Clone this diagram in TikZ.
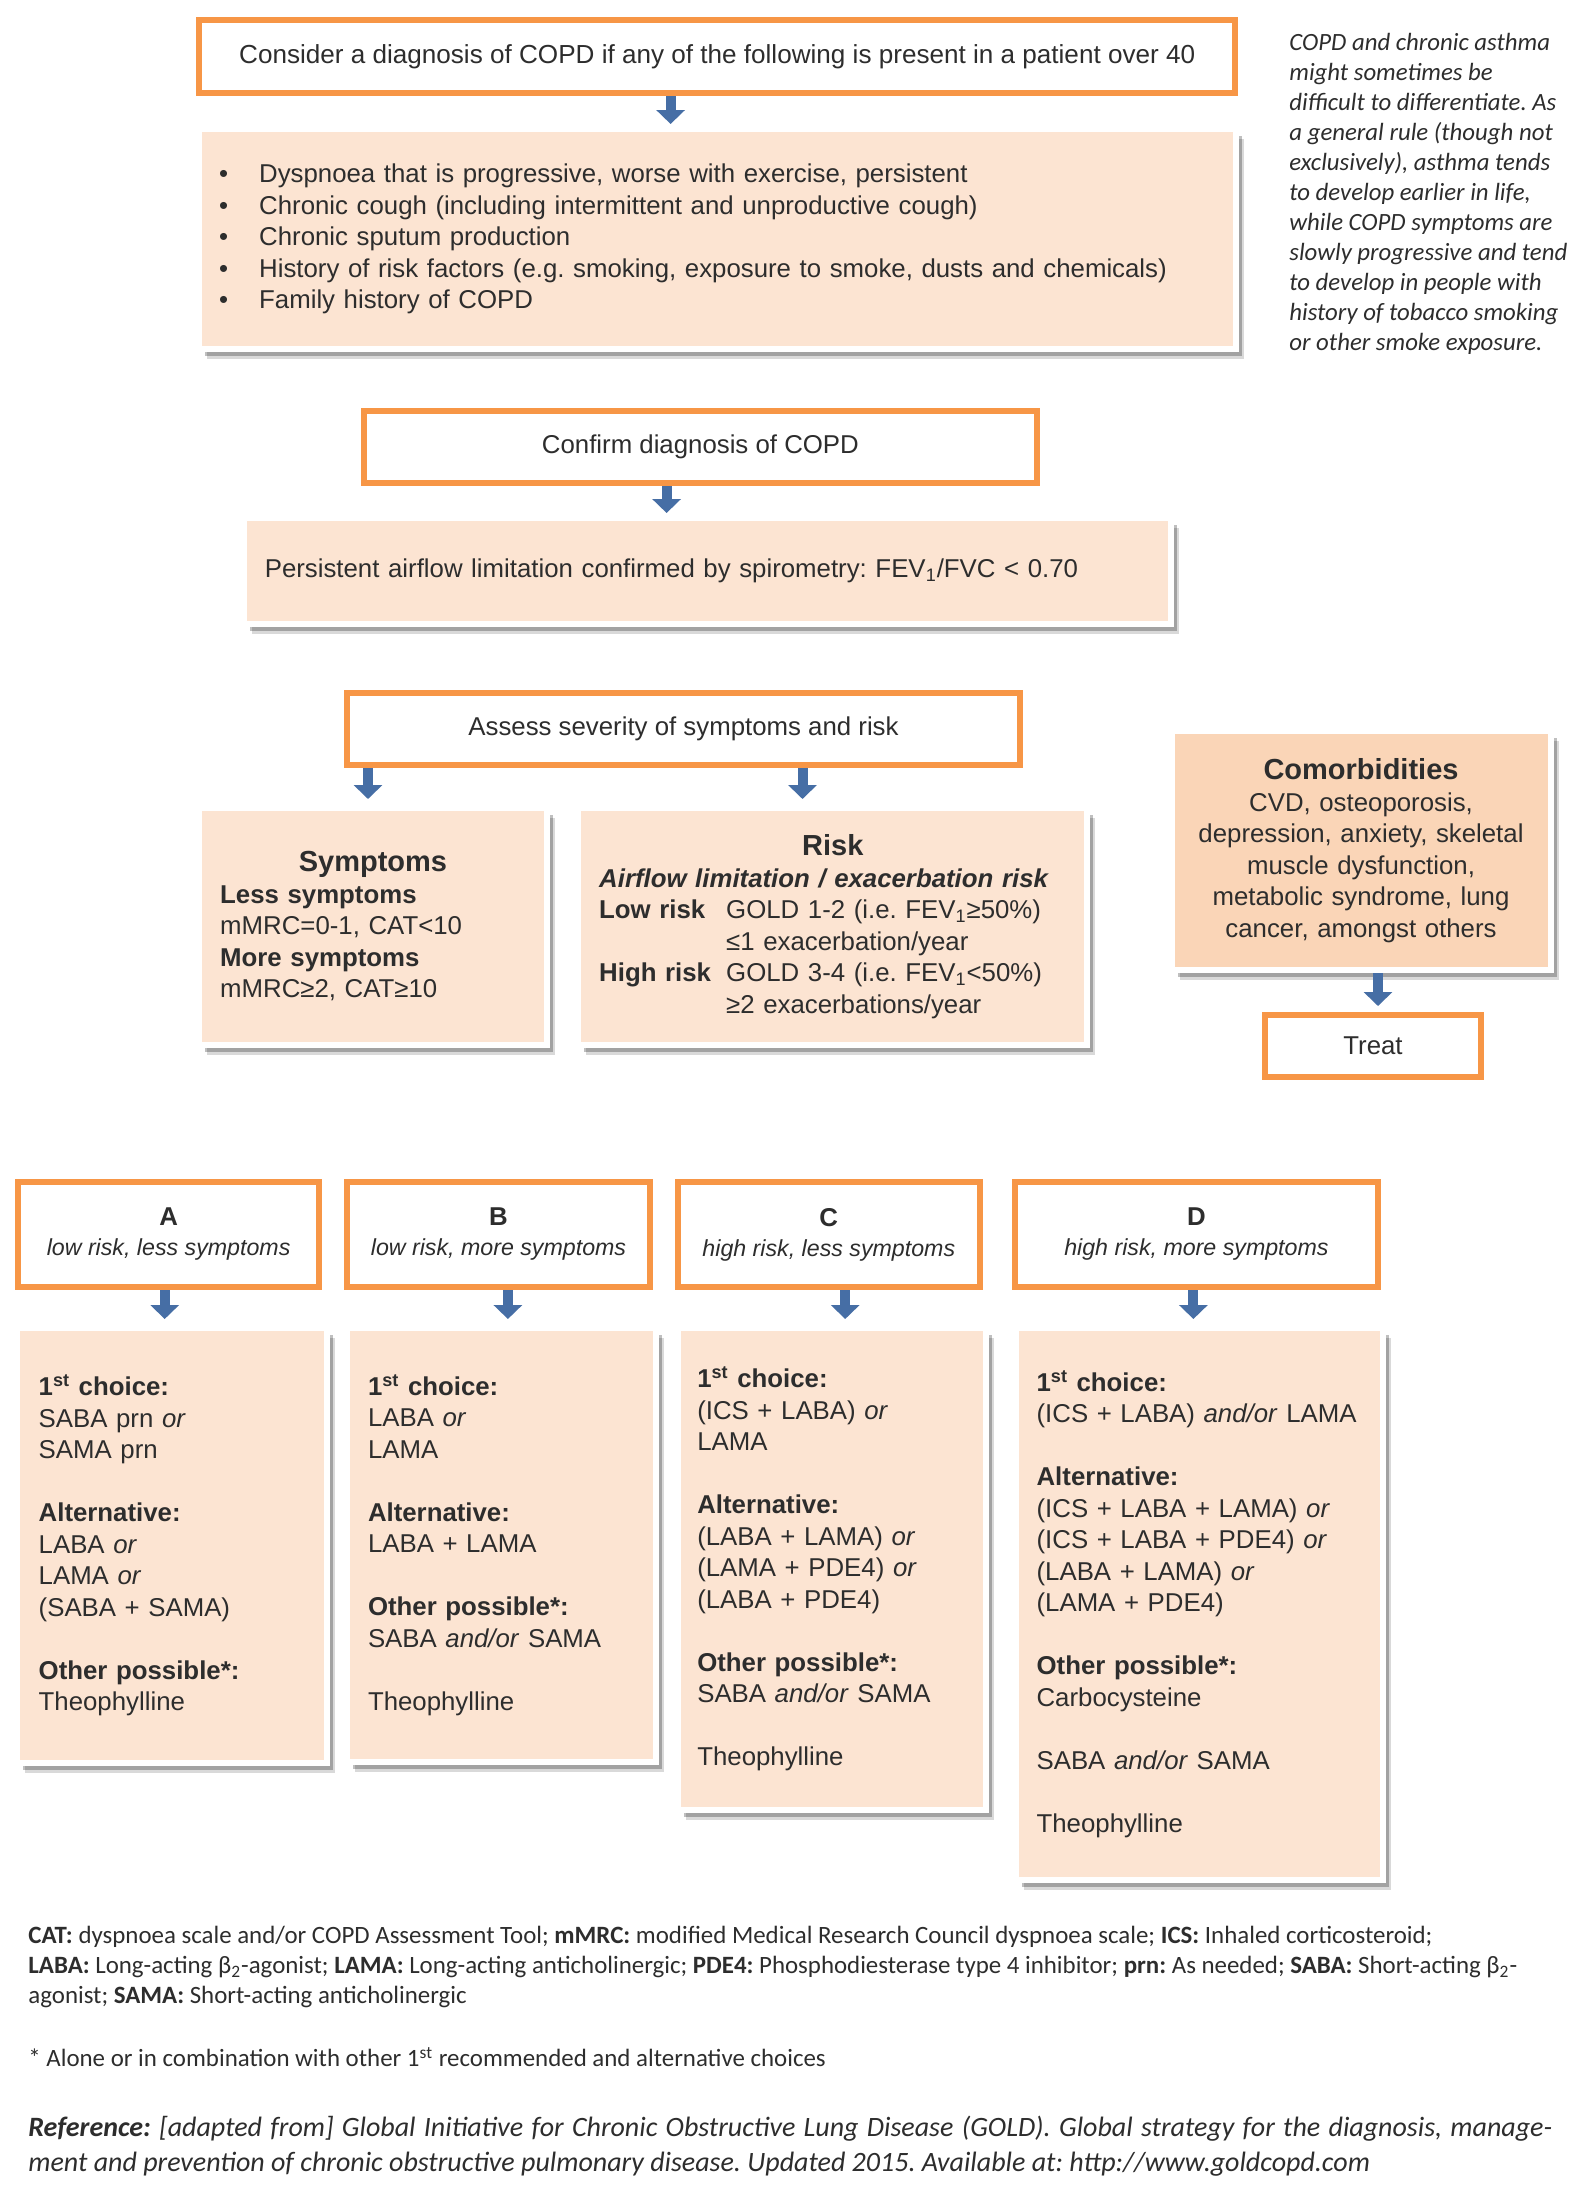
\documentclass[tikz,border=0pt]{standalone}
\usepackage{fontspec}
\setmainfont{Liberation Sans}
\newfontfamily\calibri{Carlito}
\usepackage{tikz}
\usetikzlibrary{positioning, arrows.meta, shadows}

\definecolor{copdorange}{RGB}{247,150,70}
\definecolor{copdpeach}{RGB}{252,228,210}
\definecolor{copdtan}{RGB}{250,213,183}
\definecolor{copdblue}{RGB}{70,110,165}
\definecolor{copdtext}{RGB}{45,45,45}

\newcommand{\boxfont}{\fontsize{12.9pt}{15.75pt}\selectfont}
\newcommand{\groupfont}{\fontsize{11.6pt}{15pt}\selectfont}
\newcommand{\headfont}{\fontsize{14.5pt}{15.75pt}\selectfont\bfseries}
\newcommand{\sidefont}{\calibri\fontsize{12.4pt}{15pt}\selectfont\itshape}
\newcommand{\footfont}{\calibri\fontsize{12.45pt}{15pt}\selectfont}
\newcommand{\reffont}{\calibri\fontsize{14pt}{17.5pt}\selectfont\itshape}
\newcommand{\bul}{\makebox[20pt][l]{\textbullet}}
\newcommand{\skipline}{\\[15.75pt]}
\frenchspacing

\tikzset{
  stepbox/.style={draw=copdorange, line width=3pt, fill=white, text=copdtext, font=\boxfont, align=center, inner sep=0pt},
  groupbox/.style={stepbox, font=\groupfont, minimum height=52.5pt},
  infobox/.style={fill=copdpeach, draw=white, line width=3pt, text=copdtext, font=\boxfont, align=left, inner ysep=0pt,
    drop shadow={shadow xshift=4pt, shadow yshift=-5pt, fill=black, opacity=.15},
    drop shadow={shadow xshift=3pt, shadow yshift=-3.5pt, fill=black, opacity=.25}},
  blockarrow/.style={draw=copdblue, line width=5pt, -{Triangle[width=14pt,length=7pt]}, shorten >=3pt},
  plaintext/.style={anchor=west, inner sep=0pt, text=copdtext, align=left},
}

\begin{document}
\begin{tikzpicture}[x=0.5pt, y=-0.5pt]
    \useasboundingbox[fill=white] (0,0) rectangle (1589,2185);

    % diagnosis
    \node [stepbox, font=\fontsize{13.05pt}{15.75pt}\selectfont, minimum width=517.8pt, minimum height=36.5pt] (consider) at (717.2,56.5) {Consider a diagnosis of COPD if any of the following is present in a patient over 40};
    \node [infobox, text width=498.5pt, inner xsep=9.9pt, minimum height=110pt] (signs) at (717.7,239) {\bul Dyspnoea that is progressive, worse with exercise, persistent\\
        \bul Chronic cough (including intermittent and unproductive cough)\\
        \bul Chronic sputum production\\
        \bul History of risk factors (e.g. smoking, exposure to smoke, dusts and chemicals)\\
        \bul Family history of COPD};
    \node [plaintext, font=\sidefont] (asthma) at (1289,194) {COPD and chronic asthma\\might sometimes be\\difficult to differentiate. As\\a general rule (though not\\exclusively), asthma tends\\to develop earlier in life,\\while COPD symptoms are\\slowly progressive and tend\\to develop in people with\\history of tobacco smoking\\or other smoke exposure.};

    \node [stepbox, minimum width=336.3pt, minimum height=36pt] (confirm) at (700.4,447) {Confirm diagnosis of COPD};
    \node [infobox, text width=442.5pt, inner xsep=10.4pt, minimum height=53pt] (spiro) at (707.3,571) {Persistent airflow limitation confirmed by spirometry: FEV\textsubscript{1}/FVC < 0.70};

    % severity
    \node [stepbox, minimum width=336.3pt, minimum height=36pt] (assess) at (683.5,729) {Assess severity of symptoms and risk};
    \node [infobox, text width=152.8pt, inner xsep=10.4pt, minimum height=118.5pt] (symptoms) at (373,926.5) {\makebox[152.8pt]{\headfont Symptoms}\\
        \textbf{Less symptoms}\\
        mMRC=0-1, CAT<10\\
        \textbf{More symptoms}\\
        mMRC≥2, CAT≥10};
    \node [infobox, text width=233.6pt, inner xsep=10.4pt, minimum height=118.5pt] (risk) at (832.8,926.5) {\makebox[233.6pt]{\headfont Risk}\\
        \textbf{\textit{Airflow limitation / exacerbation risk}}\\
        \makebox[63.5pt][l]{\bfseries Low risk}GOLD 1-2 (i.e. FEV\textsubscript{1}≥50\%)\\
        \hspace*{63.5pt}≤1 exacerbation/year\\
        \makebox[63.5pt][l]{\bfseries High risk}GOLD 3-4 (i.e. FEV\textsubscript{1}<50\%)\\
        \hspace*{63.5pt}≥2 exacerbations/year};

    \node [infobox, fill=copdtan, align=center, text width=179.5pt, inner xsep=5pt, minimum height=119.5pt] (comorb) at (1361,850.5) {{\headfont Comorbidities}\\
        CVD, osteoporosis,\\depression, anxiety, skeletal\\muscle dysfunction,\\metabolic syndrome, lung\\cancer, amongst others};
    \node [stepbox, minimum width=108.1pt, minimum height=31pt] (treat) at (1373,1046) {Treat};

    % groups A-D
    \node [groupbox, minimum width=150.8pt] (grpA) at (168.6,1234.5) {{\fontsize{12.9pt}{15pt}\selectfont\bfseries A}\\\textit{low risk, less symptoms}};
    \node [groupbox, minimum width=151.3pt] (grpB) at (498.5,1234.5) {{\fontsize{12.9pt}{15pt}\selectfont\bfseries B}\\\textit{low risk, more symptoms}};
    \node [groupbox, minimum width=151.3pt] (grpC) at (828.8,1234.5) {{\fontsize{12.9pt}{15pt}\selectfont\bfseries C}\\\textit{high risk, less symptoms}};
    \node [groupbox, minimum width=181.5pt] (grpD) at (1196.4,1234.5) {{\fontsize{12.9pt}{15pt}\selectfont\bfseries D}\\\textit{high risk, more symptoms}};

    \node [infobox, text width=133.4pt, inner xsep=10.9pt, minimum height=217.5pt, below=17.5pt of grpA, xshift=1.75pt] (treatA) {\textbf{1\textsuperscript{st} choice:}\\
        SABA prn \textit{or}\\
        SAMA prn\skipline
        \textbf{Alternative:}\\
        LABA \textit{or}\\
        LAMA \textit{or}\\
        (SABA + SAMA)\skipline
        \textbf{Other possible*:}\\
        Theophylline};
    \node [infobox, text width=133.5pt, inner xsep=10.4pt, minimum height=217pt, below=17.5pt of grpB, xshift=1.5pt] (treatB) {\textbf{1\textsuperscript{st} choice:}\\
        LABA \textit{or}\\
        LAMA\skipline
        \textbf{Alternative:}\\
        LABA + LAMA\skipline
        \textbf{Other possible*:}\\
        SABA \textit{and/or} SAMA\skipline
        Theophylline};
    \node [infobox, text width=134.5pt, inner xsep=9.9pt, minimum height=241pt, below=17.5pt of grpC, xshift=1.5pt] (treatC) {\textbf{1\textsuperscript{st} choice:}\\
        (ICS + LABA) \textit{or}\\
        LAMA\skipline
        \textbf{Alternative:}\\
        (LABA + LAMA) \textit{or}\\
        (LAMA + PDE4) \textit{or}\\
        (LABA + PDE4)\skipline
        \textbf{Other possible*:}\\
        SABA \textit{and/or} SAMA\skipline
        Theophylline};
    \node [infobox, text width=162.7pt, inner xsep=10.4pt, minimum height=276pt, below=17.5pt of grpD, xshift=1.45pt] (treatD) {\textbf{1\textsuperscript{st} choice:}\\
        (ICS + LABA) \textit{and/or} LAMA\skipline
        \textbf{Alternative:}\\
        (ICS + LABA + LAMA) \textit{or}\\
        (ICS + LABA + PDE4) \textit{or}\\
        (LABA + LAMA) \textit{or}\\
        (LAMA + PDE4)\skipline
        \textbf{Other possible*:}\\
        Carbocysteine\skipline
        SABA \textit{and/or} SAMA\skipline
        Theophylline};

    % arrows
    \coordinate (xsigns) at (670.6,0);
    \coordinate (xspiro) at (666.6,0);
    \coordinate (xsym) at (368,0);
    \coordinate (xrisk) at (802.5,0);
    \coordinate (xtreat) at (1378,0);
    \coordinate (xa) at (164.7,0);
    \coordinate (xb) at (507.9,0);
    \coordinate (xc) at (845.2,0);
    \coordinate (xd) at (1193.4,0);
    \draw [blockarrow, shorten >=1pt] (consider.south -| xsigns) -- (signs.north -| xsigns);
    \draw [blockarrow, shorten >=1pt] (confirm.south -| xspiro) -- (spiro.north -| xspiro);
    \draw [blockarrow] (assess.south -| xsym) -- (symptoms.north -| xsym);
    \draw [blockarrow] (assess.south -| xrisk) -- (risk.north -| xrisk);
    \draw [blockarrow] (comorb.south -| xtreat) -- (treat.north -| xtreat);
    \draw [blockarrow] (grpA.south -| xa) -- (treatA.north -| xa);
    \draw [blockarrow] (grpB.south -| xb) -- (treatB.north -| xb);
    \draw [blockarrow] (grpC.south -| xc) -- (treatC.north -| xc);
    \draw [blockarrow] (grpD.south -| xd) -- (treatD.north -| xd);

    % footer
    \node [plaintext, font=\footfont] (abbrev) at (28,1967) {\textbf{CAT:} dyspnoea scale and/or COPD Assessment Tool; \textbf{mMRC:} modified Medical Research Council dyspnoea scale; \textbf{ICS:} Inhaled corticosteroid;\\
        \textbf{LABA:} Long-acting β\textsubscript{2}-agonist; \textbf{LAMA:} Long-acting anticholinergic; \textbf{PDE4:} Phosphodiesterase type 4 inhibitor; \textbf{prn:} As needed; \textbf{SABA:} Short-acting β\textsubscript{2}-\\
        agonist; \textbf{SAMA:} Short-acting anticholinergic};
    \node [plaintext, font=\footfont] (alone) at (28,2057) {* Alone or in combination with other 1\textsuperscript{st} recommended and alternative choices};
    \node [plaintext, font=\reffont, text width=762pt, align=justify] (source) at (28,2146.5) {\textbf{Reference:} [adapted from] Global Initiative for Chronic Obstructive Lung Disease (GOLD). Global strategy for the diagnosis, manage-\linebreak ment and prevention of chronic obstructive pulmonary disease. Updated 2015. Available at: http://www.goldcopd.com};
\end{tikzpicture}
\end{document}
